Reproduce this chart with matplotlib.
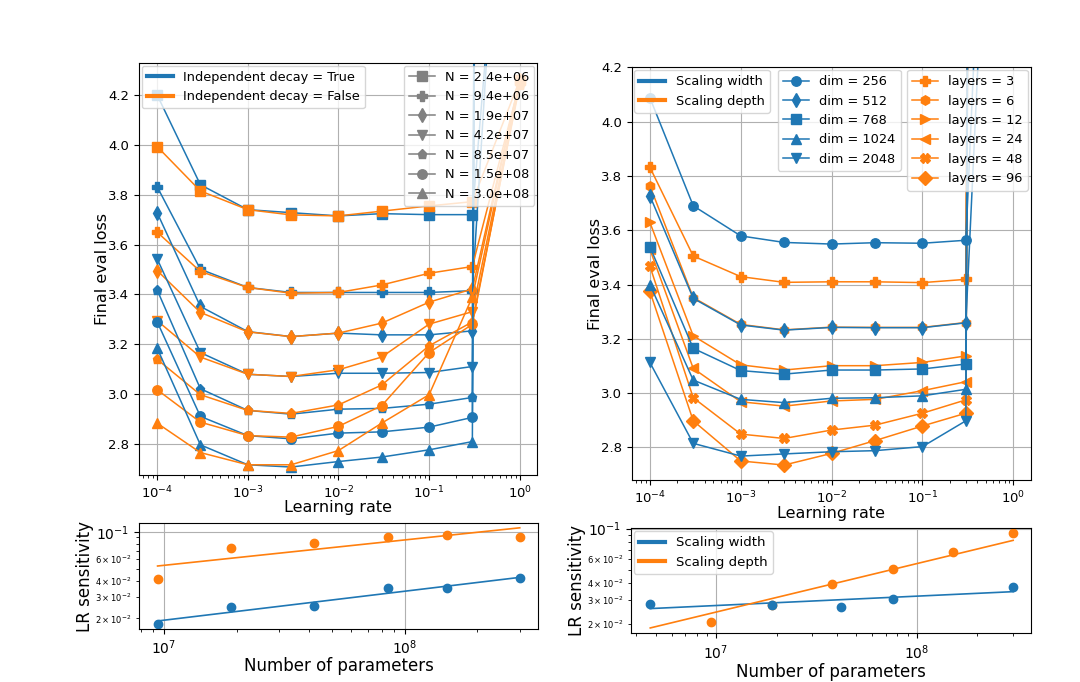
import numpy as np
import matplotlib
matplotlib.use("Agg")
import matplotlib.pyplot as plt
from matplotlib.lines import Line2D

# ---------------- data ----------------
lrs = [1e-4, 3e-4, 1e-3, 3e-3, 1e-2, 3e-2, 1e-1, 3e-1, 1e0]

N_params = [2.4e6, 9.4e6, 1.9e7, 4.2e7, 8.5e7, 1.5e8, 3.0e8]
N_markers = ['s', 'P', 'd', 'v', 'p', 'o', '^']

loss_indep_true = [
    [4.200, 3.840, 3.740, 3.728, 3.715, 3.724, 3.720, 3.720, 6.0],
    [3.832, 3.501, 3.428, 3.408, 3.408, 3.408, 3.408, 3.415, 6.5],
    [3.728, 3.352, 3.251, 3.231, 3.245, 3.238, 3.238, 3.254, 40.0],
    [3.543, 3.167, 3.080, 3.071, 3.084, 3.084, 3.087, 3.111, 40.0],
    [3.418, 3.022, 2.935, 2.920, 2.940, 2.943, 2.960, 2.987, 40.0],
    [3.291, 2.911, 2.834, 2.821, 2.844, 2.849, 2.868, 2.907, 40.0],
    [3.185, 2.797, 2.717, 2.708, 2.730, 2.748, 2.777, 2.810, 40.0],
]
loss_indep_false = [
    [3.993, 3.815, 3.740, 3.719, 3.715, 3.734, 3.755, 3.772, 4.26],
    [3.650, 3.492, 3.428, 3.405, 3.408, 3.438, 3.485, 3.512, 4.25],
    [3.496, 3.328, 3.250, 3.231, 3.245, 3.285, 3.369, 3.422, 4.26],
    [3.295, 3.149, 3.080, 3.071, 3.098, 3.149, 3.281, 3.331, 4.25],
    [3.140, 2.998, 2.935, 2.923, 2.957, 3.037, 3.194, 3.290, 4.24],
    [3.018, 2.888, 2.834, 2.828, 2.871, 2.954, 3.167, 3.280, 4.25],
    [2.884, 2.766, 2.717, 2.717, 2.774, 2.884, 2.998, 3.390, 4.26],
]

dims = [256, 512, 768, 1024, 2048]
dim_markers = ['o', 'd', 's', '^', 'v']
loss_width = [
    [4.088, 3.690, 3.579, 3.555, 3.549, 3.554, 3.552, 3.563, 7.5],
    [3.727, 3.349, 3.251, 3.232, 3.242, 3.241, 3.241, 3.259, 7.0],
    [3.539, 3.165, 3.083, 3.070, 3.085, 3.085, 3.089, 3.107, 40.0],
    [3.400, 3.048, 2.977, 2.965, 2.981, 2.983, 2.990, 3.014, 40.0],
    [3.113, 2.815, 2.768, 2.776, 2.784, 2.788, 2.803, 2.898, 40.0],
]

layers = [3, 6, 12, 24, 48, 96]
layer_markers = ['P', 'h', '>', '<', 'X', 'D']
loss_depth = [
    [3.832, 3.505, 3.429, 3.408, 3.410, 3.410, 3.407, 3.419, 40.0],
    [3.764, 3.352, 3.253, 3.233, 3.243, 3.242, 3.242, 3.260, 40.0],
    [3.629, 3.211, 3.104, 3.085, 3.101, 3.101, 3.113, 3.137, 40.0],
    [3.530, 3.091, 2.968, 2.952, 2.971, 2.977, 3.009, 3.042, 40.0],
    [3.468, 2.983, 2.849, 2.833, 2.864, 2.882, 2.926, 2.975, 40.0],
    [3.375, 2.898, 2.750, 2.735, 2.778, 2.825, 2.879, 2.926, 40.0],
]

# LR sensitivity
sens_N = [9.4e6, 1.9e7, 4.2e7, 8.5e7, 1.5e8, 3.0e8]
sens_indep_true = [0.0180, 0.0247, 0.0250, 0.0349, 0.0349, 0.0423]
sens_indep_false = [0.0413, 0.0735, 0.0810, 0.0912, 0.0946, 0.0912]

width_N = [4.7e6, 1.89e7, 4.2e7, 7.6e7, 3.02e8]
sens_width = [0.0283, 0.0278, 0.0266, 0.0304, 0.0376]
depth_N = [9.4e6, 1.89e7, 3.8e7, 7.6e7, 1.51e8, 3.0e8]
sens_depth = [0.0207, 0.0278, 0.0391, 0.0506, 0.0676, 0.0929]

# power-law fits (log10 slope, log10 intercept) as shown in the figure
fit_indep_true = (0.234, -3.352)
fit_indep_false = (0.205, -2.706)
fit_width = (0.0684, -2.041)
fit_depth = (0.354, -4.088)

# ---------------- style ----------------
C_BLUE = '#1f77b4'
C_ORANGE = '#ff7f0e'
TICK_FS = 9.5
LEG_FS = 9.3
LAB_FS = 11.5

plt.rcParams['font.family'] = ['DejaVu Sans']

fig = plt.figure(figsize=(10.8, 6.82), dpi=100)

ax1 = fig.add_axes([0.1287, 0.3035, 0.3685, 0.6041])
ax2 = fig.add_axes([0.1287, 0.0777, 0.3694, 0.1550])
ax3 = fig.add_axes([0.5849, 0.2962, 0.3694, 0.6051])
ax4 = fig.add_axes([0.5843, 0.0714, 0.3704, 0.1540])

LW = 1.1
MS = 6.8

# ---- top left ----
for i, n in enumerate(N_params):
    ax1.plot(lrs, loss_indep_true[i], color=C_BLUE, marker=N_markers[i], lw=LW, ms=MS)
    ax1.plot(lrs, loss_indep_false[i], color=C_ORANGE, marker=N_markers[i], lw=LW, ms=MS)
ax1.set_xscale('log')
ax1.set_xlim(10 ** -4.2, 10 ** 0.19)
ax1.set_ylim(2.676, 4.328)
ax1.set_yticks([2.8, 3.0, 3.2, 3.4, 3.6, 3.8, 4.0, 4.2])
ax1.grid(True, which='major')
ax1.set_xlabel('Learning rate', fontsize=LAB_FS, labelpad=-1)
ax1.set_ylabel('Final eval loss', fontsize=LAB_FS, labelpad=-1.5)
ax1.tick_params(labelsize=TICK_FS)

h1 = [Line2D([0], [0], color=C_BLUE, lw=3), Line2D([0], [0], color=C_ORANGE, lw=3)]
leg1 = ax1.legend(h1, ['Independent decay = True', 'Independent decay = False'],
                  loc='upper left', fontsize=LEG_FS, borderaxespad=0.2)
ax1.add_artist(leg1)
h2 = [Line2D([0], [0], color='gray', marker=m, lw=LW, ms=MS) for m in N_markers]
ax1.legend(h2, [f'N = {n:.1e}' for n in N_params], loc='upper right',
           fontsize=LEG_FS, borderaxespad=0.2)

# ---- top right ----
for j, L in enumerate(layers):
    ax3.plot(lrs, loss_depth[j], color=C_ORANGE, marker=layer_markers[j], lw=LW, ms=MS)
for j, d in enumerate(dims):
    ax3.plot(lrs, loss_width[j], color=C_BLUE, marker=dim_markers[j], lw=LW, ms=MS)
ax3.set_xscale('log')
ax3.set_xlim(10 ** -4.2, 10 ** 0.19)
ax3.set_ylim(2.68, 4.2)
ax3.set_yticks([2.8, 3.0, 3.2, 3.4, 3.6, 3.8, 4.0, 4.2])
ax3.grid(True, which='major')
ax3.set_xlabel('Learning rate', fontsize=LAB_FS, labelpad=0)
ax3.set_ylabel('Final eval loss', fontsize=LAB_FS, labelpad=-1.5)
ax3.tick_params(labelsize=TICK_FS)

h3 = [Line2D([0], [0], color=C_BLUE, lw=3), Line2D([0], [0], color=C_ORANGE, lw=3)]
leg3a = ax3.legend(h3, ['Scaling width', 'Scaling depth'], loc='upper left',
                   fontsize=LEG_FS, borderaxespad=0.2)
ax3.add_artist(leg3a)
h4 = [Line2D([0], [0], color=C_BLUE, marker=m, lw=LW, ms=MS) for m in dim_markers]
leg3b = ax3.legend(h4, [f'dim = {d}' for d in dims], loc='upper left',
                   bbox_to_anchor=(0.36, 1.0), fontsize=LEG_FS, borderaxespad=0.2)
ax3.add_artist(leg3b)
h5 = [Line2D([0], [0], color=C_ORANGE, marker=m, lw=LW, ms=MS) for m in layer_markers]
ax3.legend(h5, [f'layers = {L}' for L in layers], loc='upper right',
           fontsize=LEG_FS, borderaxespad=0.2)

# ---- bottom left ----
def fit_line(ax, xs, fit, color):
    xx = np.array([min(xs), max(xs)])
    yy = 10 ** (fit[0] * np.log10(xx) + fit[1])
    ax.plot(xx, yy, color=color, lw=1.2)

ax2.plot(sens_N, sens_indep_true, 'o', color=C_BLUE, ms=6)
ax2.plot(sens_N, sens_indep_false, 'o', color=C_ORANGE, ms=6)
fit_line(ax2, sens_N, fit_indep_true, C_BLUE)
fit_line(ax2, sens_N, fit_indep_false, C_ORANGE)
ax2.set_xscale('log')
ax2.set_yscale('log')
ax2.set_xlim(7.87e6, 3.57e8)
ax2.set_ylim(0.0164, 0.117)
ax2.grid(True, which='major')
ax2.set_xlabel('Number of parameters', fontsize=12, labelpad=0)
ax2.set_ylabel('LR sensitivity', fontsize=12, labelpad=1)
ax2.tick_params(which='major', labelsize=10)
ax2.tick_params(axis='y', which='minor', labelsize=6)

# ---- bottom right ----
all_N = width_N + depth_N
fit_line(ax4, all_N, fit_width, C_BLUE)
fit_line(ax4, all_N, fit_depth, C_ORANGE)
ax4.plot(depth_N, sens_depth, 'o', color=C_ORANGE, ms=6)
ax4.plot(width_N, sens_width, 'o', color=C_BLUE, ms=6)
ax4.set_xscale('log')
ax4.set_yscale('log')
ax4.set_xlim(3.77e6, 3.71e8)
ax4.set_ylim(0.01717, 0.1005)
ax4.grid(True, which='major')
ax4.set_xlabel('Number of parameters', fontsize=12, labelpad=1)
ax4.set_ylabel('LR sensitivity', fontsize=12, labelpad=1)
ax4.tick_params(which='major', labelsize=10)
ax4.tick_params(axis='y', which='minor', labelsize=6)
h6 = [Line2D([0], [0], color=C_BLUE, lw=3), Line2D([0], [0], color=C_ORANGE, lw=3)]
ax4.legend(h6, ['Scaling width', 'Scaling depth'], loc='upper left',
           fontsize=LEG_FS + 0.2, borderaxespad=0.2)

fig.savefig('out.png', dpi=100)
